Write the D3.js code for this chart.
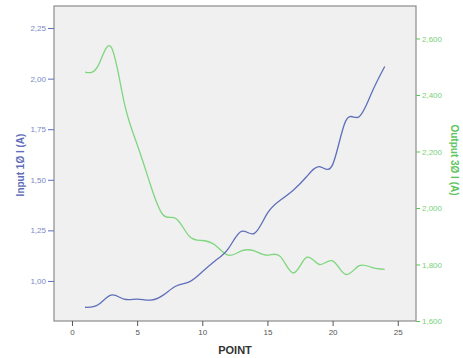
<!DOCTYPE html>
<html>
<head>
<meta charset="utf-8">
<script src="https://cdn.jsdelivr.net/npm/d3@7"></script>
<style>
  body { margin: 0; background: #fff; }
  text { font-family: "Liberation Sans", Arial, sans-serif; }
</style>
</head>
<body>
<svg id="chart" width="463" height="358"></svg>
<script>
const points = d3.range(1, 25);
const inputI = [0.87, 0.882, 0.93, 0.91, 0.91, 0.905, 0.93, 0.975, 0.995, 1.045, 1.10, 1.16,
  1.245, 1.235, 1.335, 1.40, 1.45, 1.515, 1.565, 1.575, 1.79, 1.81, 1.93, 2.06];
const outputI = [2481, 2503, 2570, 2375, 2225, 2085, 1975, 1962, 1900, 1885, 1868, 1833,
  1848, 1848, 1833, 1828, 1770, 1825, 1800, 1813, 1765, 1795, 1790, 1783];
const xTicks = [0, 5, 10, 15, 20, 25];
const leftTicks = [1.00, 1.25, 1.50, 1.75, 2.00, 2.25];
const rightTicks = [1600, 1800, 2000, 2200, 2400, 2600];

const blue = '#5f6fba';
const green = '#5fc45f';
const plot = { left: 54, right: 416, top: 6, bottom: 321 };

const svg = d3.select('#chart');

const x = d3.scaleLinear().domain([-1.38, 26.4]).range([plot.left, plot.right]);
const yL = d3.scaleLinear().domain([0.802, 2.359]).range([plot.bottom, plot.top]);
const yR = d3.scaleLinear().domain([1600, 2715]).range([plot.bottom, plot.top]);

svg.append('rect')
  .attr('x', plot.left)
  .attr('y', plot.top)
  .attr('width', plot.right - plot.left)
  .attr('height', plot.bottom - plot.top)
  .attr('fill', '#f0f0f0')
  .attr('stroke', '#8c8c8c')
  .attr('stroke-width', 1.2);

// x axis
const xAxis = svg.append('g')
  .attr('transform', `translate(0,${plot.bottom})`)
  .call(d3.axisBottom(x).tickValues(xTicks).tickSize(5).tickPadding(3));
xAxis.select('.domain').remove();
xAxis.selectAll('line').attr('stroke', '#555');
xAxis.selectAll('text').attr('fill', '#555').attr('font-size', 8);

// left axis
const leftAxis = svg.append('g')
  .attr('transform', `translate(${plot.left},0)`)
  .call(d3.axisLeft(yL).tickValues(leftTicks).tickSize(6).tickPadding(2)
    .tickFormat((d) => d3.format('.2f')(d).replace('.', ',')));
leftAxis.select('.domain').remove();
leftAxis.selectAll('line').attr('stroke', blue);
leftAxis.selectAll('text').attr('fill', '#7a87c8').attr('font-size', 8);

// right axis
const rightAxis = svg.append('g')
  .attr('transform', `translate(${plot.right},0)`)
  .call(d3.axisRight(yR).tickValues(rightTicks).tickSize(4).tickPadding(2)
    .tickFormat((d) => d3.format(',')(d)));
rightAxis.select('.domain').remove();
rightAxis.selectAll('line').attr('stroke', green);
rightAxis.selectAll('text').attr('fill', '#78d278').attr('font-size', 8);

// lines
const lineL = d3.line()
  .x((d, i) => x(points[i]))
  .y((d) => yL(d))
  .curve(d3.curveNatural);
const lineR = d3.line()
  .x((d, i) => x(points[i]))
  .y((d) => yR(d))
  .curve(d3.curveNatural);

svg.append('path')
  .datum(outputI)
  .attr('d', lineR)
  .attr('fill', 'none')
  .attr('stroke', '#7fd67f')
  .attr('stroke-width', 1.3);

svg.append('path')
  .datum(inputI)
  .attr('d', lineL)
  .attr('fill', 'none')
  .attr('stroke', blue)
  .attr('stroke-width', 1.3);

// titles
svg.append('text')
  .attr('x', (plot.left + plot.right) / 2)
  .attr('y', 354)
  .attr('text-anchor', 'middle')
  .attr('font-size', 11)
  .attr('font-weight', 'bold')
  .attr('fill', '#333')
  .text('POINT');

svg.append('text')
  .attr('transform', 'translate(24,165) rotate(-90)')
  .attr('text-anchor', 'middle')
  .attr('font-size', 10)
  .attr('font-weight', 'bold')
  .attr('fill', blue)
  .text('Input 1Ø I (A)');

svg.append('text')
  .attr('transform', 'translate(451,160) rotate(90)')
  .attr('text-anchor', 'middle')
  .attr('font-size', 10)
  .attr('font-weight', 'bold')
  .attr('fill', green)
  .text('Output 3Ø I (A)');
</script>
</body>
</html>
